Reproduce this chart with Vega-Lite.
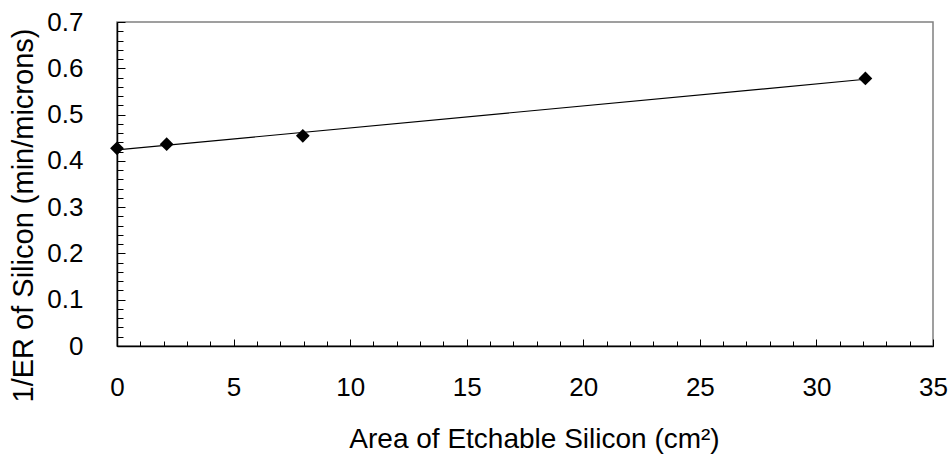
{
  "$schema": "https://vega.github.io/schema/vega-lite/v6.json",
  "width": 816,
  "height": 324,
  "autosize": "none",
  "padding": {"left": 117, "top": 22, "right": 19, "bottom": 110},
  "background": "white",
  "config": {
    "view": {"stroke": "#808080", "strokeWidth": 1.5},
    "font": "Liberation Sans",
    "axis": {
      "grid": false,
      "domainColor": "black",
      "domainWidth": 1.5,
      "tickColor": "black",
      "tickWidth": 1,
      "labelFont": "Liberation Sans",
      "labelColor": "black",
      "titleFont": "Liberation Sans",
      "titleFontWeight": "normal",
      "titleColor": "black",
      "labelOverlap": false,
      "labelBound": false,
      "labelFlush": false
    }
  },
  "data": {
    "values": [
      {"area": 0, "inv_er": 0.427},
      {"area": 2.13, "inv_er": 0.436},
      {"area": 7.97, "inv_er": 0.454},
      {"area": 32.1, "inv_er": 0.578}
    ]
  },
  "layer": [
    {
      "transform": [{"regression": "inv_er", "on": "area", "method": "linear"}],
      "mark": {"type": "line", "color": "black", "strokeWidth": 1.2},
      "encoding": {
        "x": {"field": "area", "type": "quantitative", "scale": {"domain": [0, 35], "nice": false},
          "axis": {"orient": "bottom", "tickCount": 35, "tickSize": -5, "labels": false, "domain": false, "title": null}},
        "y": {"field": "inv_er", "type": "quantitative", "scale": {"domain": [0, 0.7], "nice": false, "zero": false},
          "axis": {"orient": "left", "tickCount": 35, "tickSize": -6, "labels": false, "domain": false, "title": null}}
      }
    },
    {
      "mark": {"type": "point", "shape": "diamond", "filled": true, "color": "black", "size": 190, "opacity": 1},
      "encoding": {
        "x": {"field": "area", "type": "quantitative",
          "axis": {"orient": "bottom", "values": [0, 5, 10, 15, 20, 25, 30, 35], "tickSize": -7, "labelPadding": 35,
            "labelFontSize": 26, "titleFontSize": 28,
            "title": "Area of Etchable Silicon (cm²)", "titleX": 417, "titleY": 101, "titleBaseline": "alphabetic"}},
        "y": {"field": "inv_er", "type": "quantitative",
          "axis": {"orient": "left", "values": [0, 0.1, 0.2, 0.3, 0.4, 0.5, 0.6, 0.7], "tickSize": -8, "labelPadding": 42,
            "labelFontSize": 26, "titleFontSize": 29,
            "labelExpr": "format(datum.value, '.1~f')",
            "title": "1/ER of Silicon (min/microns)", "titleY": 193, "titleX": -85, "titleBaseline": "alphabetic"}}
      }
    }
  ],
  "resolve": {"axis": {"x": "independent", "y": "independent"}}
}
